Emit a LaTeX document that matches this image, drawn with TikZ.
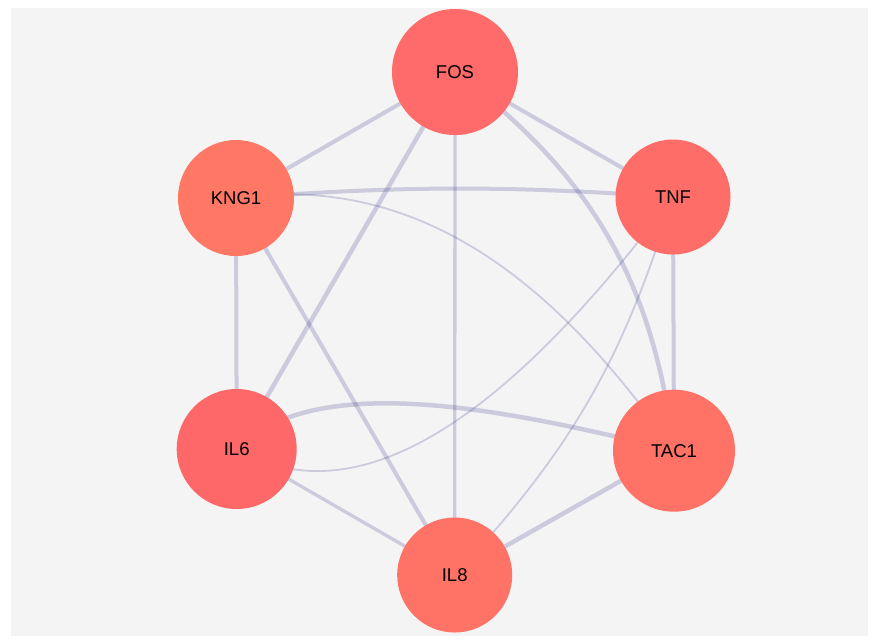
\documentclass[tikz,border=0pt]{standalone}
\usepackage{fontspec}
\setmainfont{Liberation Sans}
\usetikzlibrary{backgrounds}
\pgfdeclarelayer{edges}
\pgfsetlayers{background,edges,main}

\definecolor{canvas}{RGB}{244,244,244}
\definecolor{linkcol}{RGB}{40,40,130}
\definecolor{redA}{RGB}{255,107,107}
\definecolor{redB}{RGB}{255,120,102}
\definecolor{redC}{RGB}{255,109,104}
\definecolor{redD}{RGB}{255,104,104}
\definecolor{redE}{RGB}{255,114,101}
\definecolor{redF}{RGB}{255,115,102}

\begin{document}
\begin{tikzpicture}[x=1pt,y=1pt,
  gene/.style={circle, inner sep=0pt, text=black,
               font=\fontsize{18.5}{20}\selectfont},
  link/.style={draw=linkcol, draw opacity=0.2},
  strong/.style={link, line width=4.5pt},
  normal/.style={link, line width=4pt},
  medium/.style={link, line width=3.3pt},
  weak/.style={link, line width=1.8pt}]

\useasboundingbox (0,0) rectangle (870,-638);
\begin{pgfonlayer}{background}
  \fill[canvas] (11,-8) rectangle (868,-636);
\end{pgfonlayer}

% genes
\node[gene, fill=redA, minimum size=126pt] (FOS)  at (455,-72)    {FOS};
\node[gene, fill=redB, minimum size=116pt] (KNG1) at (236,-198)   {KNG1};
\node[gene, fill=redC, minimum size=115pt] (TNF)  at (673,-197)   {TNF};
\node[gene, fill=redD, minimum size=120pt] (IL6)  at (236.7,-449) {IL6};
\node[gene, fill=redE, minimum size=122pt] (TAC1) at (674,-450.7) {TAC1};
\node[gene, fill=redF, minimum size=115pt] (IL8)  at (454.7,-575) {IL8};

% interactions
\begin{pgfonlayer}{edges}
  \draw[normal] (FOS.center) -- (KNG1.center);
  \draw[normal] (FOS.center) -- (TNF.center);
  \draw[strong] (FOS.center) -- (IL6.center);
  \draw[medium] (FOS.center) -- (IL8.center);
  \draw[strong] (FOS.center) to[bend left=23] (TAC1.center);
  \draw[normal] (KNG1.center) to[bend left=4] (TNF.center);
  \draw[weak]   (KNG1.center) .. controls +(8:200) and +(125:180) .. (TAC1.center);
  \draw[normal] (KNG1.center) -- (IL6.center);
  \draw[normal] (KNG1.center) -- (IL8.center);
  \draw[normal] (TNF.center) -- (TAC1.center);
  \draw[weak]   (TNF.center) .. controls +(233:200) and +(-30:170) .. (IL6.center);
  \draw[weak]   (TNF.center) to[bend left=13] (IL8.center);
  \draw[strong] (IL6.center) .. controls +(45:110) and +(166:180) .. (TAC1.center);
  \draw[medium] (IL6.center) -- (IL8.center);
  \draw[strong] (TAC1.center) -- (IL8.center);
\end{pgfonlayer}
\end{tikzpicture}
\end{document}
